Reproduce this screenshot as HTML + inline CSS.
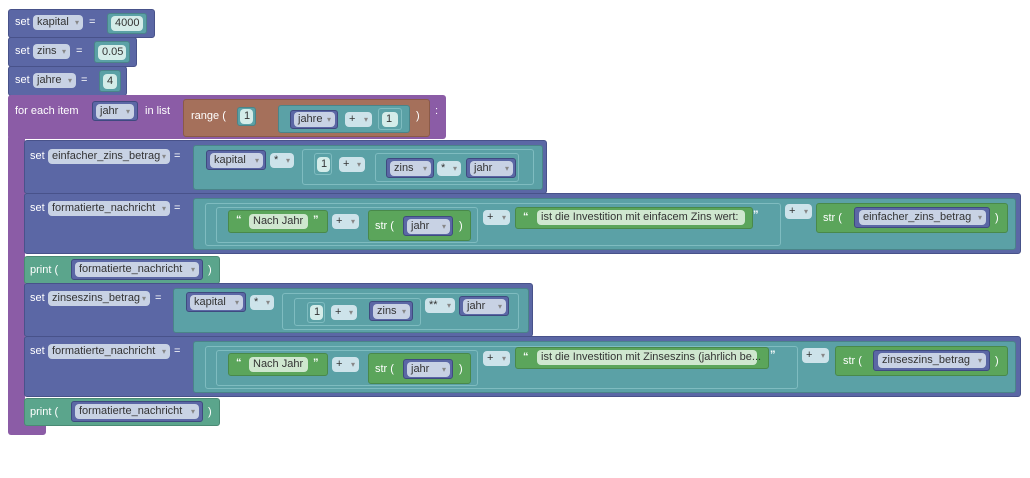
<!DOCTYPE html>
<html><head><meta charset="utf-8"><style>
body{margin:0;width:1030px;height:478px;background:#fff;position:relative;overflow:hidden;font-family:"Liberation Sans",sans-serif;font-size:11px}
.b{position:absolute;box-sizing:border-box;border-radius:3px}
.v{background:#5b67a5;border:1px solid #48528a}
.p{background:#8b5ca6}
.t{background:#5ba1a6;border:1px solid #4a8489}
.t2{background:#5ba1a6;border:1px solid #7fbcc0}
.g{background:#5ba55b;border:1px solid #49894a}
.r{background:#a5705b;border:1px solid #8a5a48}
.pr{background:#5ba58c;border:1px solid #4a8a74}
.dv{background:#5b67a5;border:1px solid #3f4a80}
.pill{position:absolute;box-sizing:border-box;background:#c8d2e4;border-radius:4px;color:#333;height:15px;line-height:15px;padding-left:4px;white-space:nowrap}
.pill i{font-style:normal;color:#888;font-size:8px;position:absolute;right:4px;top:0}
.np{background:#d4ece9;color:#333}
.gp{background:#cfe7cf}
.op{background:#cde3ea}
.w{position:absolute;color:#fff;white-space:nowrap;line-height:14px}
</style></head><body>

<div class="b v" style="left:8px;top:9px;width:147px;height:29px"></div>
<span class="w" style="left:15px;top:15px">set</span>
<div class="pill" style="left:33px;top:15px;width:50px">kapital<i>▾</i></div>
<span class="w" style="left:89px;top:15px">=</span>
<div class="b t" style="left:107px;top:13px;width:40px;height:21px"></div>
<div class="pill np" style="left:111px;top:16px;width:32px">4000</div>

<div class="b v" style="left:8px;top:37px;width:129px;height:30px"></div>
<span class="w" style="left:15px;top:44px">set</span>
<div class="pill" style="left:33px;top:44px;width:37px">zins<i>▾</i></div>
<span class="w" style="left:76px;top:44px">=</span>
<div class="b t" style="left:94px;top:41px;width:36px;height:22px"></div>
<div class="pill np" style="left:98px;top:45px;width:28px">0.05</div>

<div class="b v" style="left:8px;top:66px;width:119px;height:30px"></div>
<span class="w" style="left:15px;top:73px">set</span>
<div class="pill" style="left:33px;top:73px;width:43px">jahre<i>▾</i></div>
<span class="w" style="left:81px;top:73px">=</span>
<div class="b t" style="left:99px;top:70px;width:22px;height:22px"></div>
<div class="pill np" style="left:103px;top:74px;width:14px">4</div>

<div class="b p" style="left:8px;top:95px;width:438px;height:44px"></div>
<div class="b p" style="left:8px;top:135px;width:17px;height:300px"></div>
<div class="b p" style="left:8px;top:420px;width:38px;height:15px;border-radius:0 0 3px 6px"></div>
<span class="w" style="left:15px;top:104px">for each item</span>
<div class="b dv" style="left:92px;top:101px;width:46px;height:20px"></div>
<div class="pill" style="left:96px;top:104px;width:38px">jahr<i>▾</i></div>
<span class="w" style="left:145px;top:104px">in list</span>
<div class="b r" style="left:183px;top:99px;width:247px;height:38px"></div>
<span class="w" style="left:191px;top:109px">range (</span>
<div class="b t" style="left:237px;top:107px;width:19px;height:19px"></div>
<div class="pill np" style="left:240px;top:109px;width:13px">1</div>
<div class="b t" style="left:278px;top:105px;width:132px;height:28px"></div>
<div class="b dv" style="left:290px;top:110px;width:48px;height:19px"></div>
<div class="pill" style="left:294px;top:112px;width:41px">jahre<i>▾</i></div>
<div class="pill op" style="left:345px;top:112px;width:27px">+<i>▾</i></div>
<div class="b t2" style="left:378px;top:108px;width:24px;height:22px"></div>
<div class="pill np" style="left:382px;top:112px;width:16px">1</div>
<span class="w" style="left:416px;top:109px">)</span>
<span class="w" style="left:435px;top:104px">:</span>

<div class="b v" style="left:24px;top:140px;width:523px;height:54px"></div>
<span class="w" style="left:30px;top:149px">set</span>
<div class="pill" style="left:48px;top:149px;width:122px">einfacher_zins_betrag<i>▾</i></div>
<span class="w" style="left:174px;top:149px">=</span>
<div class="b t" style="left:193px;top:145px;width:350px;height:45px"></div>
<div class="b dv" style="left:206px;top:150px;width:60px;height:20px"></div>
<div class="pill" style="left:210px;top:153px;width:53px">kapital<i>▾</i></div>
<div class="pill op" style="left:270px;top:153px;width:24px">*<i>▾</i></div>
<div class="b t2" style="left:302px;top:149px;width:232px;height:36px"></div>
<div class="b t2" style="left:314px;top:153px;width:18px;height:22px"></div>
<div class="pill np" style="left:317px;top:157px;width:13px">1</div>
<div class="pill op" style="left:339px;top:157px;width:26px">+<i>▾</i></div>
<div class="b t2" style="left:375px;top:153px;width:144px;height:29px"></div>
<div class="b dv" style="left:386px;top:158px;width:48px;height:20px"></div>
<div class="pill" style="left:390px;top:161px;width:41px">zins<i>▾</i></div>
<div class="pill op" style="left:437px;top:161px;width:24px">*<i>▾</i></div>
<div class="b dv" style="left:466px;top:158px;width:50px;height:20px"></div>
<div class="pill" style="left:470px;top:161px;width:43px">jahr<i>▾</i></div>

<div class="b v" style="left:24px;top:193px;width:997px;height:61px"></div>
<span class="w" style="left:30px;top:201px">set</span>
<div class="pill" style="left:48px;top:201px;width:122px">formatierte_nachricht<i>▾</i></div>
<span class="w" style="left:174px;top:201px">=</span>
<div class="b t" style="left:193px;top:198px;width:823px;height:52px"></div>
<div class="b t2" style="left:205px;top:203px;width:576px;height:43px"></div>
<div class="b t2" style="left:216px;top:207px;width:262px;height:36px"></div>
<div class="b g" style="left:228px;top:210px;width:100px;height:23px"></div>
<span class="w" style="left:236px;top:213px;font-weight:bold">“</span>
<div class="pill gp" style="left:249px;top:214px;width:59px">Nach Jahr</div>
<span class="w" style="left:313px;top:213px;font-weight:bold">”</span>
<div class="pill op" style="left:332px;top:214px;width:27px">+<i>▾</i></div>
<div class="b g" style="left:368px;top:210px;width:103px;height:31px"></div>
<span class="w" style="left:375px;top:219px">str (</span>
<div class="b dv" style="left:403px;top:216px;width:50px;height:20px"></div>
<div class="pill" style="left:407px;top:219px;width:43px">jahr<i>▾</i></div>
<span class="w" style="left:459px;top:219px">)</span>
<div class="pill op" style="left:483px;top:210px;width:27px">+<i>▾</i></div>
<div class="b g" style="left:515px;top:207px;width:238px;height:22px"></div>
<span class="w" style="left:523px;top:210px;font-weight:bold">“</span>
<div class="pill gp" style="left:537px;top:210px;width:208px">ist die Investition mit einfacem Zins wert:</div>
<span class="w" style="left:753px;top:208px;font-weight:bold;color:#fff">”</span>
<div class="pill op" style="left:785px;top:204px;width:27px">+<i>▾</i></div>
<div class="b g" style="left:816px;top:203px;width:192px;height:30px"></div>
<span class="w" style="left:823px;top:211px">str (</span>
<div class="b dv" style="left:854px;top:207px;width:136px;height:21px"></div>
<div class="pill" style="left:859px;top:210px;width:127px">einfacher_zins_betrag<i>▾</i></div>
<span class="w" style="left:995px;top:211px">)</span>

<div class="b pr" style="left:24px;top:256px;width:196px;height:28px"></div>
<span class="w" style="left:30px;top:263px">print (</span>
<div class="b dv" style="left:71px;top:259px;width:132px;height:21px"></div>
<div class="pill" style="left:75px;top:262px;width:124px">formatierte_nachricht<i>▾</i></div>
<span class="w" style="left:208px;top:263px">)</span>

<div class="b v" style="left:24px;top:283px;width:509px;height:54px"></div>
<span class="w" style="left:30px;top:291px">set</span>
<div class="pill" style="left:48px;top:291px;width:102px">zinseszins_betrag<i>▾</i></div>
<span class="w" style="left:155px;top:291px">=</span>
<div class="b t" style="left:173px;top:288px;width:356px;height:45px"></div>
<div class="b dv" style="left:186px;top:292px;width:60px;height:20px"></div>
<div class="pill" style="left:190px;top:295px;width:53px">kapital<i>▾</i></div>
<div class="pill op" style="left:250px;top:295px;width:24px">*<i>▾</i></div>
<div class="b t2" style="left:282px;top:293px;width:237px;height:37px"></div>
<div class="b t2" style="left:294px;top:298px;width:127px;height:28px"></div>
<div class="b t2" style="left:307px;top:302px;width:18px;height:21px"></div>
<div class="pill np" style="left:310px;top:305px;width:13px">1</div>
<div class="pill op" style="left:331px;top:305px;width:26px">+<i>▾</i></div>
<div class="b dv" style="left:369px;top:301px;width:44px;height:20px"></div>
<div class="pill" style="left:373px;top:304px;width:37px">zins<i>▾</i></div>
<div class="pill op" style="left:425px;top:298px;width:30px">**<i>▾</i></div>
<div class="b dv" style="left:459px;top:296px;width:50px;height:20px"></div>
<div class="pill" style="left:463px;top:299px;width:43px">jahr<i>▾</i></div>

<div class="b v" style="left:24px;top:336px;width:997px;height:61px"></div>
<span class="w" style="left:30px;top:344px">set</span>
<div class="pill" style="left:48px;top:344px;width:122px">formatierte_nachricht<i>▾</i></div>
<span class="w" style="left:174px;top:344px">=</span>
<div class="b t" style="left:193px;top:341px;width:823px;height:52px"></div>
<div class="b t2" style="left:205px;top:346px;width:593px;height:43px"></div>
<div class="b t2" style="left:216px;top:350px;width:262px;height:36px"></div>
<div class="b g" style="left:228px;top:353px;width:100px;height:23px"></div>
<span class="w" style="left:236px;top:356px;font-weight:bold">“</span>
<div class="pill gp" style="left:249px;top:357px;width:59px">Nach Jahr</div>
<span class="w" style="left:313px;top:356px;font-weight:bold">”</span>
<div class="pill op" style="left:332px;top:357px;width:27px">+<i>▾</i></div>
<div class="b g" style="left:368px;top:353px;width:103px;height:31px"></div>
<span class="w" style="left:375px;top:362px">str (</span>
<div class="b dv" style="left:403px;top:359px;width:50px;height:20px"></div>
<div class="pill" style="left:407px;top:362px;width:43px">jahr<i>▾</i></div>
<span class="w" style="left:459px;top:362px">)</span>
<div class="pill op" style="left:483px;top:351px;width:27px">+<i>▾</i></div>
<div class="b g" style="left:515px;top:347px;width:254px;height:22px"></div>
<span class="w" style="left:523px;top:350px;font-weight:bold">“</span>
<div class="pill gp" style="left:537px;top:350px;width:220px">ist die Investition mit Zinseszins (jahrlich be...</div>
<span class="w" style="left:770px;top:348px;font-weight:bold">”</span>
<div class="pill op" style="left:802px;top:348px;width:27px">+<i>▾</i></div>
<div class="b g" style="left:835px;top:346px;width:173px;height:30px"></div>
<span class="w" style="left:843px;top:354px">str (</span>
<div class="b dv" style="left:873px;top:350px;width:117px;height:21px"></div>
<div class="pill" style="left:878px;top:353px;width:108px">zinseszins_betrag<i>▾</i></div>
<span class="w" style="left:995px;top:354px">)</span>

<div class="b pr" style="left:24px;top:398px;width:196px;height:28px"></div>
<span class="w" style="left:30px;top:405px">print (</span>
<div class="b dv" style="left:71px;top:401px;width:132px;height:21px"></div>
<div class="pill" style="left:75px;top:404px;width:124px">formatierte_nachricht<i>▾</i></div>
<span class="w" style="left:208px;top:405px">)</span>

</body></html>
